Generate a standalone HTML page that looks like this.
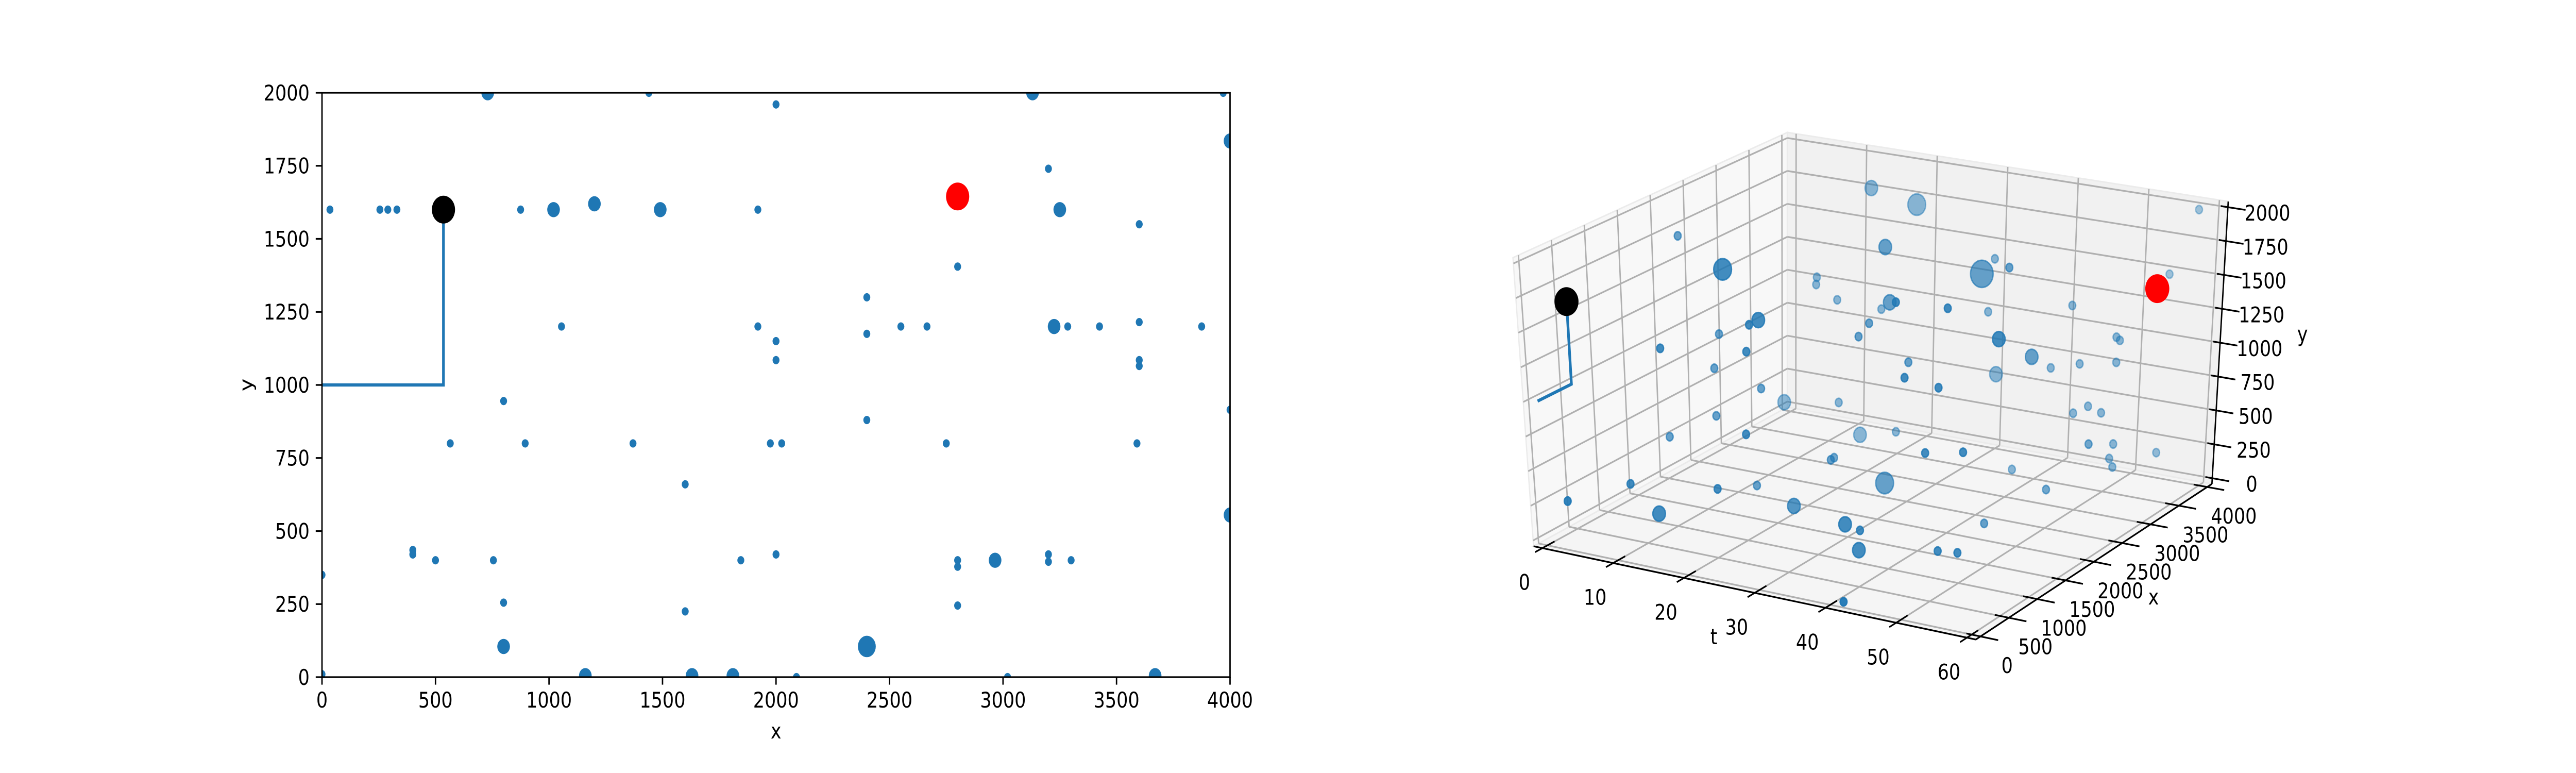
<!DOCTYPE html>
<html><head><meta charset="utf-8">
<style>
html,body{margin:0;padding:0;background:#fff;width:100%;height:100%;overflow:hidden;}
svg{display:block;width:100vw;height:100vh;font-family:"DejaVu Sans","Liberation Sans",sans-serif;}
</style></head>
<body>
<svg id="fig" viewBox="0 0 6000 1500" preserveAspectRatio="none" xmlns="http://www.w3.org/2000/svg">
<rect width="6000" height="1500" fill="#fff"/>
<defs><clipPath id="clip2d"><rect x="750" y="180" width="2115" height="1134"/></clipPath></defs>
<g id="ax2d"></g>
<g id="ax3d"></g>
</svg>
<script>
// ---------- 2D chart data ----------
const X2=[730,1440,2000,3130,3970,4000,3200,35,255,290,330,875,1020,1200,1490,1920,3250,3600,2800,2400,1055,1920,2550,2665,3225,3285,3425,3600,3875,2400,2000,2000,3600,3600,800,4000,2400,565,895,1370,1975,2025,2750,3590,1600,4000,400,400,500,755,1845,2000,2800,2800,2965,3200,3200,3300,0,800,1600,2800,800,2400,0,1160,1630,1810,2090,3020,3670];
const Y2=[2000,2000,1960,2000,2000,1835,1740,1600,1600,1600,1600,1600,1600,1620,1600,1600,1600,1550,1405,1300,1200,1200,1200,1200,1200,1200,1200,1215,1200,1175,1150,1085,1085,1065,945,915,880,800,800,800,800,800,800,800,660,555,435,420,400,400,400,420,400,378,400,420,395,400,350,255,225,245,105,105,10,5,5,5,0,0,5];
const S2=[50,15,15,50,15,50,15,15,15,15,15,15,50,50,50,15,50,15,15,15,15,15,15,15,50,15,15,15,15,15,15,15,15,15,15,15,15,15,15,15,15,15,15,15,15,50,15,15,15,15,15,15,15,15,50,15,15,15,15,15,15,15,50,100,15,50,50,50,15,15,50];
const PATH_X=[0,535,535];
const PATH_Y=[1000,1000,1600];
const START_PT=[535,1600];
const GOAL_PT=[2800,1645];
const XTICKS2=[0,500,1000,1500,2000,2500,3000,3500,4000];
const YTICKS2=[0,250,500,750,1000,1250,1500,1750,2000];

// ---------- 3D chart data (t, x, y) ----------
const T3=[18.7,25.1,57.9,2.4,31.3,36.2,48.5,19.4,44.7,11.0,10.9,54.2,13.9,31.9,20.2,43.1,47.3,50.2,35.4,24.1,22.8,29.0,7.8,27.5,53.7,54.2,57.2,10.3,22.3,51.8,34.5,44.5,48.6,53.8,7.0,36.7,44.2,48.9,13.6,6.2,14.1,50.0,47.9,51.9,7.1,17.2,22.4,0.3,21.9,47.0,52.3,56.8,53.8,20.4,23.4,53.3,56.8,53.8,39.3,31.1,5.2,17.6,12.7,50.9,1.5,23.2,9.1,35.6,37.7,45.4,37.5,48.7,51.5,41.9];
const X3=[3200,3200,4000,2000,2000,3200,2000,800,2000,3200,3200,4000,3200,2000,3200,800,3200,800,3200,800,800,2000,2000,2000,3200,3200,800,800,800,2000,2000,3200,3200,3200,2000,3200,800,800,2000,3200,3200,3200,3200,3200,2000,3200,3200,2000,800,800,800,2400,3200,2400,2000,3200,3600,3200,3200,2000,800,800,2000,2400,200,1400,800,800,800,2000,800,800,800,0];
const Y3=[2000,1933,1976,1775,1964,1629,1974,1969,1893,1266,1211,1468,1124,1565,1112,1966,1383,1992,1230,1648,1601,1384,1101,1272,1207,1188,1839,1304,1401,1355,1151,898,965,1023,841,780,1432,1407,756,287,360,665,595,635,491,148,220,269,797,917,976,663,423,213,328,312,280,254,100,234,265,357,33,275,246,140,89,286,264,80,119,228,244,0];
const S3=[50,100,15,15,50,15,15,100,160,15,15,15,15,50,15,15,15,15,15,50,15,15,15,15,15,15,50,15,15,50,15,15,15,15,15,50,15,15,15,50,15,15,15,15,15,50,15,15,15,15,15,15,15,15,15,15,15,15,15,100,15,15,15,15,15,50,50,50,15,15,50,15,15,15];
const PATH3_T=[0,0,0];
const PATH3_X=[0,535,535];
const PATH3_Y=[1000,1000,1600];
const START3=[0,535,1600];
const GOAL3=[60,3100,1645];
const TTICKS3=[0,10,20,30,40,50,60];
const XTICKS3=[0,500,1000,1500,2000,2500,3000,3500,4000];
const YTICKS3=[0,250,500,750,1000,1250,1500,1750,2000];

const NS="http://www.w3.org/2000/svg";
const C="#1f77b4";
function mk(tag,attrs,parent){const e=document.createElementNS(NS,tag);for(const k in attrs)e.setAttribute(k,attrs[k]);parent.appendChild(e);return e;}
function rad(s){return Math.sqrt(s)*300/72/2;}

// ===== 2D =====
(function(){
const g=document.getElementById('ax2d');
const L=750,R=2865,T=180,B=1314;
const sx=v=>L+v/4000*(R-L);
const sy=v=>B-v/2000*(B-T);
const pg=mk('g',{'clip-path':'url(#clip2d)'},g);


let d='';
for(let i=0;i<PATH_X.length;i++)d+=(i?'L':'M')+sx(PATH_X[i])+' '+sy(PATH_Y[i]);
const pl=mk('path',{d:d,fill:'none',stroke:C,'stroke-width':6.25},pg);


for(let i=0;i<X2.length;i++){
  const c=mk('circle',{cx:sx(X2[i]),cy:sy(Y2[i]),r:rad(S2[i]),fill:C},pg);
  
  
}
const st=mk('circle',{cx:sx(START_PT[0]),cy:sy(START_PT[1]),r:27,fill:'#000'},pg);


const gl=mk('circle',{cx:sx(GOAL_PT[0]),cy:sy(GOAL_PT[1]),r:27,fill:'#ff0000'},pg);


const fr=mk('rect',{x:L,y:T,width:R-L,height:B-T,fill:'none',stroke:'#000','stroke-width':3.3},g);


for(const v of XTICKS2){
  const x=sx(v);
  const tk=mk('line',{x1:x,y1:B,x2:x,y2:B+14.6,stroke:'#000','stroke-width':3.3},g);
  
  
  const tx=mk('text',{x:x,y:1373,'font-size':42,'text-anchor':'middle'},g);
  tx.textContent=v;
  
  
}
for(const v of YTICKS2){
  const y=sy(v);
  const tk=mk('line',{x1:L-14.6,y1:y,x2:L,y2:y,stroke:'#000','stroke-width':3.3},g);
  
  
  const tx=mk('text',{x:L-29,y:y+15,'font-size':42,'text-anchor':'end'},g);
  tx.textContent=v;
  
  
}
const xl=mk('text',{x:(L+R)/2,y:1433,'font-size':42,'text-anchor':'middle'},g);
xl.textContent='x';


const yl=mk('text',{x:0,y:0,'font-size':42,'text-anchor':'middle',transform:'translate(588,747) rotate(-90)'},g);
yl.textContent='y';


})();

// ===== 3D =====
(function(){
const g=document.getElementById('ax3d');
const TMIN=-1.25,TMAX=61.25,XMIN=-83,XMAX=4083,YMIN=-42,YMAX=2042;
const K={
 '000':[3572,1060],'100':[4602,1241],'110':[5152,939],'010':[4163,790],
 '001':[3524,500],'101':[4600,674],'011':[4163,257],'111':[5190,391]};
function P(t,x,y){
  const u=(t-TMIN)/(TMAX-TMIN),v=(x-XMIN)/(XMAX-XMIN),w=(y-YMIN)/(YMAX-YMIN);
  let px=0,py=0;
  for(const a of [0,1])for(const b of [0,1])for(const c of [0,1]){
    const wt=(a?u:1-u)*(b?v:1-v)*(c?w:1-w);
    const k=K[''+a+b+c];px+=wt*k[0];py+=wt*k[1];
  }
  return [px,py];
}
function poly(pts,fill,name){
  const p=mk('polygon',{points:pts.map(q=>q.join(',')).join(' '),fill:fill,stroke:'#ebebeb','stroke-width':3},g);
  
  
}
poly([P(TMIN,XMIN,YMIN),P(TMAX,XMIN,YMIN),P(TMAX,XMAX,YMIN),P(TMIN,XMAX,YMIN)],'#f5f5f5','floor-pane');
poly([P(TMIN,XMIN,YMIN),P(TMIN,XMAX,YMIN),P(TMIN,XMAX,YMAX),P(TMIN,XMIN,YMAX)],'#f8f8f8','left-pane');
poly([P(TMIN,XMAX,YMIN),P(TMAX,XMAX,YMIN),P(TMAX,XMAX,YMAX),P(TMIN,XMAX,YMAX)],'#f1f1f1','back-pane');
function line(a,b,stroke,w,name){
  const l=mk('line',{x1:a[0],y1:a[1],x2:b[0],y2:b[1],stroke:stroke,'stroke-width':w},g);
  
  
}
const GC='#b0b0b0',GW=3.3;
for(const t of TTICKS3){
  line(P(t,XMIN,YMIN),P(t,XMAX,YMIN),GC,GW,'grid-t-floor');
  line(P(t,XMAX,YMIN),P(t,XMAX,YMAX),GC,GW,'grid-t-back');
}
for(const x of XTICKS3){
  line(P(TMIN,x,YMIN),P(TMAX,x,YMIN),GC,GW,'grid-x-floor');
  line(P(TMIN,x,YMIN),P(TMIN,x,YMAX),GC,GW,'grid-x-left');
}
for(const y of YTICKS3){
  line(P(TMIN,XMIN,y),P(TMIN,XMAX,y),GC,GW,'grid-y-left');
  line(P(TMIN,XMAX,y),P(TMAX,XMAX,y),GC,GW,'grid-y-back');
}
line(P(TMIN,XMIN,YMIN),P(TMAX,XMIN,YMIN),'#000',3.3,'t-axis-line');
line(P(TMAX,XMIN,YMIN),P(TMAX,XMAX,YMIN),'#000',3.3,'x-axis-line');
line(P(TMAX,XMAX,YMIN),P(TMAX,XMAX,YMAX),'#000',3.3,'y-axis-line');
function txt(s,x,y,name){
  const e=mk('text',{x:x,y:y+15,'font-size':42,'text-anchor':'middle'},g);
  e.textContent=s;
  
  
}
for(const t of TTICKS3){
  const a=P(t,XMIN,YMIN),b=P(t,XMIN+200,YMIN),c=P(t,XMIN-120,YMIN);
  line(c,b,'#000',3.3,'t-tick');
  txt(t,a[0]-42,a[1]+66,'t-tick-label');
}
for(const x of XTICKS3){
  const a=P(TMAX,x,YMIN),b=P(TMAX-2,x,YMIN),c=P(TMAX+2.5,x,YMIN);
  line(b,c,'#000',3.3,'x-tick');
  txt(x,a[0]+62,a[1]+56,'x-tick-label');
}
for(const y of YTICKS3){
  const a=P(TMAX,XMAX,y),b=P(TMAX-1,XMAX,y),c=P(TMAX+2.5,XMAX,y);
  line(b,c,'#000',3.3,'y-tick');
  txt(y,a[0]+92,a[1]+11,'y-tick-label');
}
txt('t',3992,1235,'t-axis-title');
txt('x',5016,1158,'x-axis-title');
txt('y',5363,648,'y-axis-title');
let d='';
for(let i=0;i<PATH3_T.length;i++){const q=P(PATH3_T[i],PATH3_X[i],PATH3_Y[i]);d+=(i?'L':'M')+q[0]+' '+q[1];}
const pl=mk('path',{d:d,fill:'none',stroke:C,'stroke-width':6.25},g);


const idx=T3.map((_,i)=>i).sort((a,b)=>X3[b]-X3[a]);
for(const i of idx){
  const q=P(T3[i],X3[i],Y3[i]);
  const al=Math.max(0.35,0.95-0.55*X3[i]/4000);
  const c=mk('circle',{cx:q[0],cy:q[1],r:rad(S3[i]),fill:C,'fill-opacity':al,stroke:C,'stroke-opacity':al,'stroke-width':3},g);
  
  
}
const s=P(START3[0],START3[1],START3[2]);
const sc=mk('circle',{cx:s[0],cy:s[1],r:28,fill:'#000'},g);


const e=P(GOAL3[0],GOAL3[1],GOAL3[2]);
const ec=mk('circle',{cx:e[0],cy:e[1],r:28,fill:'#ff0000'},g);


})();
</script>
</body></html>
